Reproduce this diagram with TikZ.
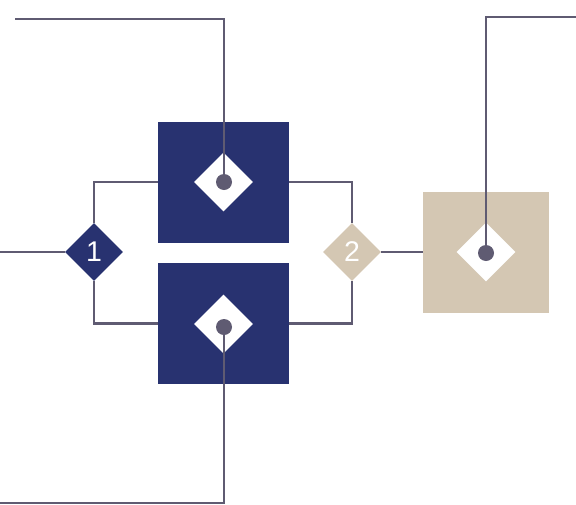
\documentclass[tikz,border=0pt]{standalone}
\usepackage{fontspec}
\setmainfont{Liberation Sans}
\usetikzlibrary{shapes.geometric}
\definecolor{navy}{HTML}{283270}
\definecolor{beige}{HTML}{D4C7B3}
\definecolor{wire}{HTML}{5F5B72}
\begin{document}
\begin{tikzpicture}[x=1pt,y=-1pt,
  bigbox/.style={rectangle,draw=none,inner sep=0,minimum width=131pt,minimum height=121pt},
  gate/.style={diamond,draw=none,inner sep=0,minimum width=58pt,minimum height=58pt,text=white,font=\fontsize{28.5}{28.5}\selectfont},
  hole/.style={diamond,fill=white,draw=none,inner sep=0,minimum width=59pt,minimum height=59pt},
  dot/.style={circle,fill=wire,draw=none,inner sep=0,minimum size=16pt},
  wireline/.style={draw=wire,line width=2.3pt}]
\useasboundingbox (0,0) rectangle (576,504);
\node[bigbox,fill=navy] (sq1) at (223.5,182) {};
\node[bigbox,fill=navy] (sq2) at (223.5,323.5) {};
\node[bigbox,fill=beige,minimum width=126pt] (sq3) at (486,252) {};
\node[hole] (h1) at (223.5,182) {};
\node[hole] (h2) at (223.5,324) {};
\node[hole] (h3) at (486,252) {};
\node[gate,fill=navy] (d1) at (94,252) {1};
\node[gate,fill=beige] (d2) at (352,252) {2};
\node[dot] (p1) at (224,182) {};
\node[dot] (p2) at (224,327) {};
\node[dot] (p3) at (486,253) {};
\coordinate (tl) at (15,19);
\coordinate (bl) at (0,503);
\coordinate (tr) at (576,17);
\coordinate (in) at (0,252);
\draw[wireline] (tl) -| (p1.center);
\draw[wireline] (p2.center) |- (bl);
\draw[wireline] (p3.center) |- (tr);
\draw[wireline] (in) -- (d1.west);
\draw[wireline] (d1.north) |- (sq1.west);
\draw[wireline] (d1.south) |- (sq2.west);
\draw[wireline] (sq1.east) -| (d2.north);
\draw[wireline] (sq2.east) -| (d2.south);
\draw[wireline] (d2.east) -- (sq3.west);
\end{tikzpicture}
\end{document}
